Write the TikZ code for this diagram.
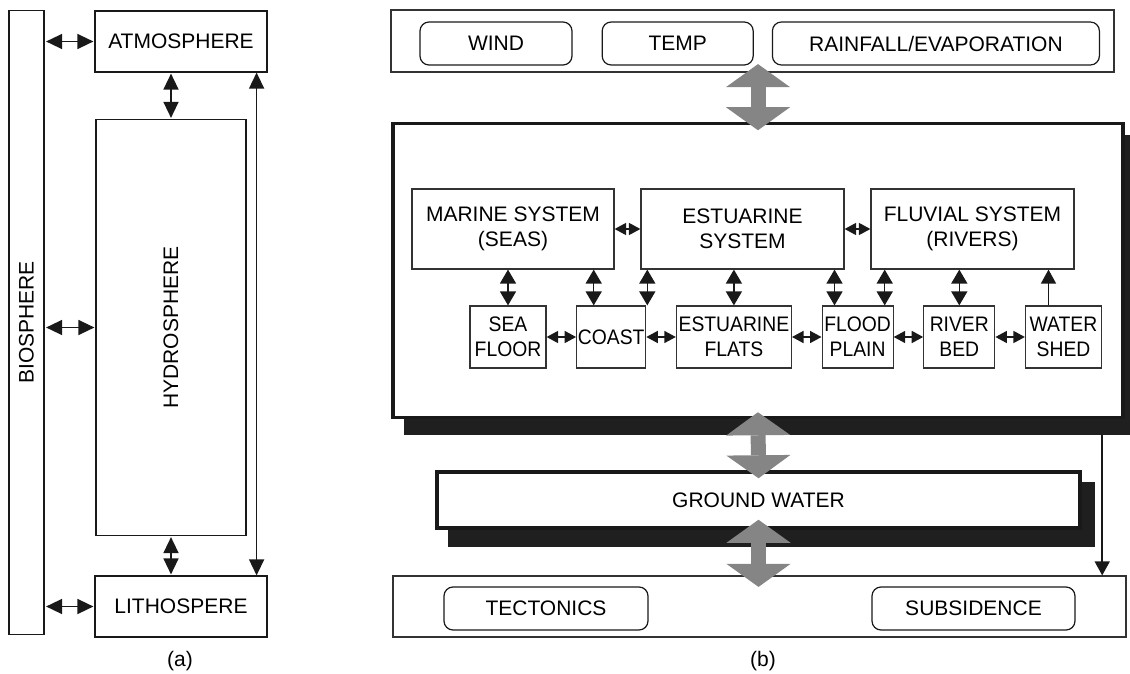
\documentclass[tikz,border=0pt]{standalone}
\usepackage{fontspec}
\setmainfont{Liberation Sans}
\newfontfamily\squeezed[FakeStretch=0.92]{Liberation Sans}
\usepackage{graphicx}
\usetikzlibrary{arrows.meta, positioning}

\newcommand{\diagfont}{\fontsize{21}{25}\selectfont}
\newcommand{\unitfont}{\squeezed\fontsize{21}{25}\selectfont}

\begin{document}
\begin{tikzpicture}[
    x=1pt, y=-1pt,
    node distance=29.5pt,
    sphere/.style={rectangle, draw=black!90, line width=1.2pt, fill=white, inner sep=0pt, align=center, font=\diagfont},
    panel/.style={rectangle, draw=black!80, line width=1.2pt, fill=white, inner sep=0pt, align=center, font=\diagfont},
    heavy/.style={rectangle, draw=black!90, line width=3.5pt, fill=white, inner sep=0pt, align=center, font=\diagfont},
    shade/.style={rectangle, fill=black!88, inner sep=0pt},
    factor/.style={rectangle, draw=black!90, line width=1.2pt, rounded corners=9pt, inner sep=0pt, minimum height=43pt, align=center, font=\diagfont},
    system/.style={rectangle, draw=black!80, line width=1.2pt, inner sep=0pt, minimum height=80pt, align=center, font=\diagfont},
    unit/.style={rectangle, draw=black!80, line width=1.2pt, inner sep=0pt, minimum height=62pt, align=center, font=\unitfont},
    link/.style={{Triangle[length=16pt,width=15pt]}-{Triangle[length=16pt,width=15pt]}, line width=1.5pt, black!90},
    vlink/.style={{Triangle[length=14pt,width=16pt]}-{Triangle[length=14pt,width=16pt]}, line width=1.5pt, black!90},
    hlink/.style={{Triangle[length=11.5pt,width=12pt]}-{Triangle[length=11.5pt,width=12pt]}, line width=1.5pt, black!90},
    feed/.style={-{Triangle[length=14pt,width=15pt]}, line width=1.5pt, black!90},
    bigflow/.style={{Triangle[length=23pt,width=64pt,line width=0pt]}-{Triangle[length=23pt,width=64pt,line width=0pt]}, line width=15pt, black!48},
]
\useasboundingbox (0,0) rectangle (1130,674);

% Panel (a): spheres
\node[sphere, minimum width=35pt, minimum height=624pt] (bio) at (26.5,322.5) {\rotatebox{90}{BIOSPHERE}};
\node[sphere, minimum width=172pt, minimum height=61pt] (atmo) at (181,41.5) {ATMOSPHERE};
\node[sphere, minimum width=150pt, minimum height=416pt] (hydro) at (171,327.5) {\rotatebox{90}{HYDROSPHERE}};
\node[sphere, minimum width=172pt, minimum height=61pt] (litho) at (181,606.5) {LITHOSPERE};
\node[font=\diagfont] (capa) at (180,661) {(a)};

\draw[link, shorten <=1.5pt, shorten >=1pt] (bio.east |- atmo.west) -- (atmo.west);
\draw[link, shorten <=1.5pt, shorten >=1pt] (bio.east |- hydro.west) -- (hydro.west);
\draw[link, shorten <=1.5pt, shorten >=1pt] (bio.east |- litho.west) -- (litho.west);
\draw[link, shorten <=1pt, shorten >=1pt] (hydro.north |- atmo.south) -- (hydro.north);
\draw[link, shorten <=1pt, shorten >=1pt] (hydro.south) -- (hydro.south |- litho.north);
\draw[link] ([xshift=-11pt]atmo.south east) -- ([xshift=-11pt]litho.north east);

% Panel (b): climate forcing
\node[panel, minimum width=723pt, minimum height=62pt] (climate) at (752.5,41) {};
\node[factor, minimum width=152pt] (wind) at (496,43.5) {WIND};
\node[factor, minimum width=151pt, right=29pt of wind] (temp) {TEMP};
\node[factor, minimum width=327pt, right=18pt of temp] (rain) {RAINFALL/EVAPORATION};

% Surface water systems
\node[shade, minimum width=726pt, minimum height=300pt] (coreshade) at (767,285) {};
\node[heavy, minimum width=730pt, minimum height=294pt] (core) at (758,270.5) {};

\node[system, minimum width=202pt] (marine) at (513,229) {MARINE SYSTEM\\(SEAS)};
\node[system, minimum width=203pt] (estuary) at (742.5,229) {ESTUARINE\\SYSTEM};
\node[system, minimum width=203pt] (fluvial) at (972.5,229) {FLUVIAL SYSTEM\\(RIVERS)};

\node[unit, minimum width=76pt] (seafloor) at (508,337) {SEA\\FLOOR};
\node[unit, minimum width=69pt, right=of seafloor] (coast) {COAST};
\node[unit, minimum width=115pt, right=of coast] (flats) {ESTUARINE\\FLATS};
\node[unit, minimum width=71pt, right=of flats] (flood) {FLOOD\\PLAIN};
\node[unit, minimum width=71pt, right=of flood] (bed) {RIVER\\BED};
\node[unit, minimum width=76pt, right=of bed] (shed) {WATER\\SHED};

\draw[hlink] (marine) -- (estuary);
\draw[hlink] (estuary) -- (fluvial);
\draw[hlink] (seafloor) -- (coast);
\draw[hlink] (coast) -- (flats);
\draw[hlink] (flats) -- (flood);
\draw[hlink] (flood) -- (bed);
\draw[hlink] (bed) -- (shed);

\draw[vlink] (seafloor.north) -- (seafloor.north |- marine.south);
\draw[vlink] ([xshift=-17.5pt]coast.north) -- ([xshift=-17.5pt]coast.north |- marine.south);
\draw[vlink] ([xshift=1pt]coast.north east) -- ([xshift=1pt]coast.north east |- estuary.south);
\draw[vlink] (flats.north) -- (flats.north |- estuary.south);
\draw[vlink] ([xshift=13pt]flood.north west) -- ([xshift=13pt]flood.north west |- estuary.south);
\draw[vlink] ([xshift=-9pt]flood.north east) -- ([xshift=-9pt]flood.north east |- fluvial.south);
\draw[vlink] (bed.north) -- (bed.north |- fluvial.south);
\draw[feed] ([xshift=-15pt]shed.north) -- ([xshift=-15pt]shed.north |- fluvial.south);

% Ground water and crust
\node[shade, minimum width=647pt, minimum height=65pt] (gwshade) at (771.5,514.5) {};
\node[heavy, minimum width=643pt, minimum height=56pt] (ground) at (758.5,500) {GROUND WATER};

\node[panel, minimum width=733pt, minimum height=61pt] (crust) at (759.5,606.5) {};
\node[factor, minimum width=204pt] (tecto) at (546,608.5) {TECTONICS};
\node[factor, minimum width=203pt] (subs) at (973.5,608.5) {SUBSIDENCE};
\node[font=\diagfont] (capb) at (763,661) {(b)};

\draw[feed] ([xshift=-28pt]coreshade.south east) -- ([xshift=-28pt]coreshade.south east |- crust.north);

% Exchange arrows
\draw[bigflow, shorten <=-8.5pt, shorten >=-8.5pt] (core.north |- climate.south) -- (core.north);
\draw[bigflow, shorten <=-7pt, shorten >=-8pt] (core.south) -- (ground.north);
\draw[bigflow, shorten <=-10pt, shorten >=-11.5pt] (ground.south) -- (ground.south |- crust.north);

\end{tikzpicture}
\end{document}
